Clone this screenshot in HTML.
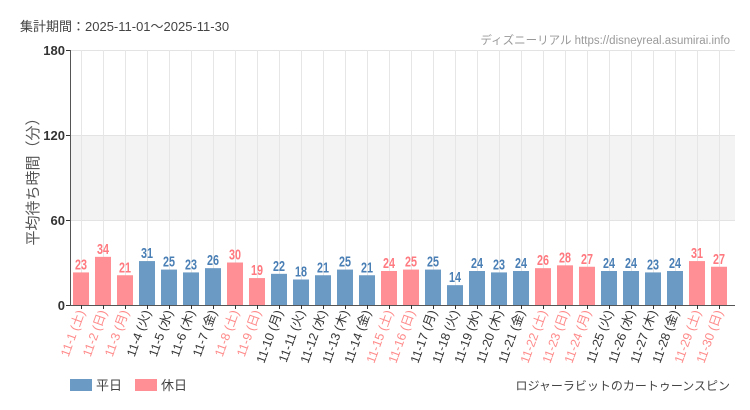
<!DOCTYPE html><html><head><meta charset="utf-8"><style>body{margin:0;background:#fff}svg{display:block;font-family:"Liberation Sans","Noto Sans CJK JP",sans-serif}</style></head><body>
<svg width="750" height="410" viewBox="0 0 750 410" xmlns="http://www.w3.org/2000/svg">
<rect width="750" height="410" fill="#fff"/>
<text x="20" y="31" font-size="13" fill="#444">集計期間：2025-11-01～2025-11-30</text>
<text x="730" y="44" font-size="11.5" fill="#999" text-anchor="end">ディズニーリアル https://disneyreal.asumirai.info</text>
<rect x="70" y="135" width="665" height="85" fill="#f3f3f3"/>
<g stroke="#e3e3e3" stroke-width="1">
<line x1="70" y1="50.5" x2="735" y2="50.5"/><line x1="70" y1="135.5" x2="735" y2="135.5"/><line x1="70" y1="220.5" x2="735" y2="220.5"/>
</g>
<g id="vg" stroke="#e6e6e6" stroke-width="1"></g>
<g id="bars"></g>
<line x1="70.5" y1="50" x2="70.5" y2="305" stroke="#555"/>
<line x1="70" y1="305.5" x2="735" y2="305.5" stroke="#555"/>
<g font-size="13" fill="#333" text-anchor="end" font-weight="bold">
<text x="65" y="55">180</text><text x="65" y="140">120</text><text x="65" y="225">60</text><text x="65" y="310">0</text>
</g>
<g stroke="#333"><line x1="66" y1="50.5" x2="70" y2="50.5"/><line x1="66" y1="135.5" x2="70" y2="135.5"/><line x1="66" y1="220.5" x2="70" y2="220.5"/><line x1="66" y1="305.5" x2="70" y2="305.5"/></g>
<text transform="translate(38,178) rotate(-90)" font-size="15" fill="#555" text-anchor="middle">平均待ち時間（分）</text>
<rect x="70" y="379" width="22" height="12" fill="#6b9ac4"/><text x="96" y="390" font-size="13" fill="#444">平日</text>
<rect x="135" y="379" width="22" height="12" fill="#ff8f94"/><text x="161" y="390" font-size="13" fill="#444">休日</text>
<text x="730" y="390" font-size="12" fill="#444" text-anchor="end">ロジャーラビットのカートゥーンスピン</text>
<script>
var v=[23,34,21,31,25,23,26,30,19,22,18,21,25,21,24,25,25,14,24,23,24,26,28,27,24,24,23,24,31,27];
var hol=[1,2,3,8,9,15,16,22,23,24,29,30];
var wd=['土','日','月','火','水','木','金'];
var ns="http://www.w3.org/2000/svg",b=document.getElementById('bars'),g=document.getElementById('vg');
function el(t,a,p,txt){var e=document.createElementNS(ns,t);for(var k in a)e.setAttribute(k,a[k]);if(txt)e.textContent=txt;p.appendChild(e);return e;}
var svg=document.querySelector('svg');
for(var i=0;i<30;i++){var d=i+1,c=81+22*i,h=v[i]*255/180,hl=hol.indexOf(d)>=0,ty=302-h;
el('line',{x1:c+0.5,y1:50,x2:c+0.5,y2:305},g);
el('rect',{x:c-8,y:305-h,width:16,height:h,fill:hl?'#ff8f94':'#6b9ac4'},b);
el('text',{x:0,y:0,'font-size':15,'font-weight':'bold','text-anchor':'middle',fill:hl?'#ff7a80':'#4a7fb5',transform:'translate('+c+','+ty+') scale(0.72,1)'},b,String(v[i]));
el('line',{x1:c+0.5,y1:305,x2:c+0.5,y2:309,stroke:'#333'},svg);
el('text',{transform:'translate('+(c+4)+',312) rotate(-70)','font-size':12.5,'text-anchor':'end',fill:hl?'#ff8a8a':'#333'},svg,'11-'+d+' ('+wd[i%7]+')');
}
</script>
</svg></body></html>
